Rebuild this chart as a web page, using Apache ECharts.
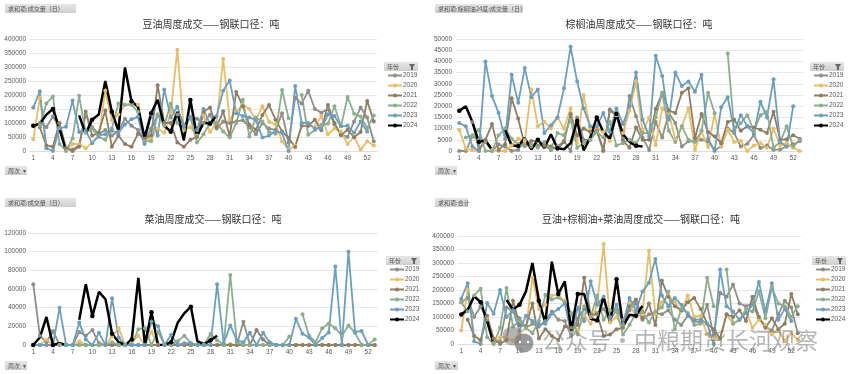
<!DOCTYPE html>
<html>
<head>
<meta charset="utf-8">
<style>
  html, body { margin: 0; padding: 0; background: #fff; }
  #chart { width: 851px; height: 374px; }
</style>
</head>
<body>
<div id="chart"></div>
<script src="https://cdn.jsdelivr.net/npm/echarts@6/dist/echarts.min.js"></script>
<script>
const weeks = ['1','2','3','4','5','6','7','8','9','10','11','12','13','14','15','16','17','18','19','20','21','22','23','24','25','26','27','28','29','30','31','32','33','34','35','36','37','38','39','40','41','42','43','44','45','46','47','48','49','50','51','52','53']
const years = ['2019', '2020', '2021', '2022', '2023', '2024']
const yearColors = ['#8f8f87', '#e9bd66', '#8f7d64', '#8bae8c', '#6a9fc1', '#000000']

// 豆油
const soy2019 = [90000,100000,85000,123000,85000,10000,5000,20000,130000,85000,60000,75000,55000,70000,115000,90000,75000,30000,80000,130000,100000,100000,130000,90000,120000,115000,100000,130000,80000,105000,100000,105000,110000,85000,60000,100000,80000,75000,135000,30000,190000,170000,215000,150000,137000,150000,95000,60000,50000,105000,155000,120000,35000]
const soy2020 = [42000,190000,20000,15000,100000,0,25000,25000,10000,30000,55000,215000,110000,130000,165000,170000,165000,40000,45000,80000,65000,135000,362000,75000,85000,55000,130000,68000,100000,329000,112000,140000,165000,150000,110000,160000,105000,95000,35000,5000,20000,90000,90000,85000,125000,60000,80000,70000,25000,50000,5000,35000,20000]
const soy2021 = [null,85000,20000,15000,100000,10000,0,15000,140000,55000,65000,145000,15000,55000,25000,15000,62000,45000,55000,235000,100000,100000,30000,15000,40000,50000,140000,155000,85000,142000,52000,211000,160000,94000,76000,129000,164000,112000,70000,46000,14000,90000,90000,112000,74000,164000,100000,56000,76000,49000,68000,179000,106000]
const soy2022 = [null,90000,170000,195000,25000,0,45000,197000,65000,80000,50000,40000,80000,170000,165000,165000,140000,35000,35000,130000,90000,170000,100000,80000,120000,30000,60000,100000,100000,70000,48000,100000,183000,52000,120000,105000,68000,62000,218000,117000,null,200000,58000,74000,94000,97000,160000,88000,193000,133000,123000,82000,127000]
const soy2023 = [155000,213000,10000,0,80000,87000,180000,68000,72000,28000,55000,60000,72000,65000,95000,113000,122000,25000,130000,55000,220000,120000,158000,90000,122000,75000,150000,95000,125000,215000,252000,135000,125000,120000,110000,48000,55000,70000,65000,0,232000,100000,100000,80000,80000,130000,125000,88000,90000,65000,105000,70000,null]
const soy2024 = [90000,97000,130000,150000,80000,0,null,127000,62000,112000,130000,250000,140000,73000,298000,178000,157000,47000,135000,183000,90000,69000,140000,38000,182000,52000,101000,98000,127000]

// 棕榈油
const palm2019 = [0,0,6500,5000,4000,0,3000,2000,0,500,5000,2000,2500,2500,500,2000,4500,0,15000,5000,5000,9500,500,18000,16000,5500,24500,15500,6000,500,13000,6000,17000,12500,2000,4300,4300,5000,4300,500,2000,10000,8000,2000,3200,7200,1300,2400,600,700,2000,3000,4300]
const palm2020 = [9500,1000,500,0,5000,500,0,0,2500,5500,4500,27500,11000,13000,10000,15000,10000,19000,3500,25000,10000,10500,8500,4500,16000,8000,18000,31000,8500,15000,2700,19000,17000,5000,11000,19000,600,8800,1800,16500,2000,9500,4000,4500,0,2500,3500,1500,10000,2500,3500,1500,0]
const palm2021 = [null,null,13000,500,5000,12000,500,3000,23500,14500,2500,4500,4500,3000,2000,1000,4000,16500,7000,10000,8500,9000,0,18500,16500,4500,1500,10500,5000,5000,18700,26000,18000,17000,26000,28000,5800,16500,8500,6500,3500,13000,14000,9000,11000,10500,9500,8000,17500,5000,5300,7000,5500]
const palm2022 = [null,6000,7000,9500,0,0,7000,10000,5500,3000,2000,3000,1500,4000,1000,8000,7000,14000,1500,3500,5000,8500,6000,13000,2500,3500,5000,3500,8000,8000,15000,26000,9000,4000,11000,5000,4000,9000,26000,17000,null,43500,9500,12500,16000,9000,16000,17500,1500,4000,11000,2000,5000]
const palm2023 = [12500,11000,2000,0,40000,24500,17000,5500,34000,21500,37000,24000,27500,8000,11500,15000,28000,46500,31000,19000,11000,11000,17000,8500,19000,12000,20000,35000,14000,6500,42500,33500,14000,35000,29000,31000,26500,34000,5500,0,19500,24000,9000,16000,11000,8000,22000,15000,32000,4000,2000,20000,null]
const palm2024 = [18000,20000,13000,4000,4800,500,null,9500,2500,2200,5800,700,5000,1300,7500,1200,800,3500,13500,300,6000,15000,8500,5500,16500,7500,4000,2300,2000]

// 菜油
const rape2019 = [65000,10000,3000,15000,0,0,0,14000,10000,16000,2000,0,0,0,0,0,0,0,0,0,0,0,0,0,0,0,0,0,0,0,0,0,25000,0,0,0,0,0,0,0,0,0,0,0,0,0,0,0,0,0,0,0,0]
const rape2020 = [0,0,6000,0,0,0,0,4000,0,0,0,0,9000,18000,0,3000,10000,0,14000,0,0,0,0,0,0,0,0,0,0,0,1000,0,0,0,0,0,0,0,0,0,0,0,0,0,0,0,0,0,0,0,0,0,0]
const rape2021 = [0,0,0,0,0,0,0,0,0,0,0,0,0,0,0,0,0,0,0,0,0,0,0,0,0,0,0,0,0,0,0,0,0,0,16000,6000,0,0,0,0,0,0,0,0,0,0,0,0,0,0,0,0,0]
const rape2022 = [0,0,0,0,0,0,0,0,0,0,0,0,3000,0,0,0,17000,18000,0,14000,0,0,4000,10000,2000,0,0,12000,5000,0,75000,3000,0,0,0,0,0,0,0,9000,null,33000,10000,3000,18000,23000,18000,10000,21000,13000,0,0,6000]
const rape2023 = [0,0,0,0,40000,0,0,24000,6000,0,13000,0,50000,8000,0,0,0,0,25000,20000,0,11000,0,2000,2000,0,0,0,65000,2000,21000,5000,3000,13000,0,13000,3000,0,0,0,28000,12000,8000,0,7500,13500,84000,0,100000,14000,15000,0,null]
const rape2024 = [0,8000,30000,0,2000,0,null,27000,65000,31000,57000,49000,12000,3000,0,6000,72000,0,35000,0,0,3000,24000,34000,41000,4000,1000,5000,10000]

// 合计
const total2019 = [155000,170000,100000,140000,90000,5000,10000,135000,120000,95000,60000,75000,65000,85000,120000,90000,85000,30000,95000,130000,100000,115000,130000,90000,125000,90000,125000,150000,90000,110000,115000,110000,125000,90000,70000,105000,85000,80000,145000,30000,190000,175000,220000,150000,140000,150000,95000,65000,50000,110000,160000,135000,40000]
const total2020 = [50000,200000,30000,10000,100000,0,25000,25000,12000,40000,60000,245000,130000,145000,180000,182000,160000,40000,50000,105000,75000,145000,370000,80000,100000,65000,150000,100000,110000,345000,110000,155000,180000,155000,120000,180000,100000,105000,35000,20000,20000,110000,75000,90000,125000,60000,90000,70000,35000,55000,10000,40000,15000]
const total2021 = [null,90000,30000,15000,105000,20000,0,15000,160000,70000,65000,150000,20000,55000,30000,15000,65000,60000,70000,245000,110000,110000,30000,35000,55000,60000,140000,165000,95000,150000,70000,235000,175000,140000,125000,155000,170000,130000,75000,55000,20000,110000,100000,125000,85000,175000,100000,60000,95000,55000,75000,185000,110000]
const total2022 = [155000,120000,180000,205000,25000,0,60000,207000,65000,85000,60000,40000,85000,182000,165000,172000,155000,115000,35000,140000,100000,180000,90000,125000,120000,35000,70000,115000,120000,80000,120000,135000,194000,55000,130000,115000,70000,75000,245000,140000,null,276000,75000,90000,130000,120000,195000,95000,210000,150000,140000,100000,140000]
const total2023 = [168000,225000,10000,0,152000,112000,200000,100000,125000,50000,105000,85000,72000,75000,112000,130000,150000,35000,135000,85000,232000,145000,175000,100000,145000,75000,170000,125000,194000,227000,315000,180000,140000,170000,145000,110000,90000,90000,75000,0,276000,140000,120000,90000,115000,145000,230000,120000,225000,90000,130000,85000,null]
const total2024 = [109000,127000,177000,155000,85000,0,null,163000,128000,145000,195000,300000,160000,78000,305000,185000,232000,50000,185000,185000,93000,87000,175000,77000,240000,65000,108000,105000,141000]

const charts = [
  {
    title: '豆油周度成交——钢联口径：吨',
    values: [soy2019, soy2020, soy2021, soy2022, soy2023, soy2024],
    max: 400000, interval: 50000,
    grid: { left: 30, top: 39, width: 347, height: 112 },
    titleX: 211, titleY: 24, legendX: 387, legendY: 72,
    filter: { text: '求和项:成交量（日）', x: 5, y: 4, w: 71 },
    week: { x: 5, y: 166, w: 22 },
    head: { x: 384, y: 62 },
  },
  {
    title: '棕榈油周度成交——钢联口径：吨',
    values: [palm2019, palm2020, palm2021, palm2022, palm2023, palm2024],
    max: 50000, interval: 5000,
    grid: { left: 456, top: 39, width: 347, height: 112 },
    titleX: 639, titleY: 24, legendX: 813, legendY: 72,
    filter: { text: '求和项:棕榈油24度:成交量（日）', x: 435, y: 4, w: 88 },
    week: { x: 435, y: 166, w: 22 },
    head: { x: 810, y: 62 },
  },
  {
    title: '菜油周度成交——钢联口径：吨',
    values: [rape2019, rape2020, rape2021, rape2022, rape2023, rape2024],
    max: 120000, interval: 20000,
    grid: { left: 30, top: 233, width: 348, height: 112 },
    titleX: 213, titleY: 219, legendX: 389, legendY: 266,
    filter: { text: '求和项:成交量（日）', x: 5, y: 198, w: 71 },
    week: { x: 5, y: 361, w: 22 },
    head: { x: 386, y: 256 },
  },
  {
    title: '豆油+棕榈油+菜油周度成交——钢联口径：吨',
    values: [total2019, total2020, total2021, total2022, total2023, total2024],
    max: 400000, interval: 50000,
    grid: { left: 458, top: 236, width: 343, height: 108 },
    titleX: 641, titleY: 219, legendX: 815, legendY: 266,
    filter: { text: '求和项:合计', x: 435, y: 198, w: 33 },
    week: { x: 435, y: 361, w: 23 },
    head: { x: 812, y: 256 },
  },
]

const axisFont = { fontFamily: 'Liberation Sans', fontSize: 6.5, color: '#595959' }
const buttonFill = new echarts.graphic.LinearGradient(0, 0, 0, 1, [
  { offset: 0, color: '#e6e6e6' },
  { offset: 1, color: '#cfcfcf' },
])

const button = (b, text, h = 9) => [
  { type: 'rect', shape: { x: b.x, y: b.y, width: b.w, height: h }, style: { fill: buttonFill } },
  { type: 'text', x: b.x + 3, y: b.y + h / 2, style: { text, fill: '#555', fontSize: 6, fontFamily: 'Noto Sans CJK SC', verticalAlign: 'middle' } },
]

const graphicItems = []
charts.forEach((c) => {
  graphicItems.push(...button(c.filter, c.filter.text))
  graphicItems.push(...button(c.week, '周次  ▾'))
  graphicItems.push(...button({ x: c.head.x, y: c.head.y, w: 34 }, '年份'))
  graphicItems.push({
    type: 'polygon',
    shape: { points: [[c.head.x + 25, c.head.y + 2], [c.head.x + 31, c.head.y + 2], [c.head.x + 29, c.head.y + 5], [c.head.x + 29, c.head.y + 8], [c.head.x + 27, c.head.y + 8], [c.head.x + 27, c.head.y + 5]] },
    style: { fill: '#666' },
  })
})

// 水印
graphicItems.push(
  { type: 'circle', z: 50, shape: { cx: 512, cy: 336, r: 9.5 }, style: { fill: 'rgba(120,120,120,0.55)' } },
  { type: 'circle', z: 51, shape: { cx: 524, cy: 343, r: 9.5 }, style: { fill: 'rgba(120,120,120,0.75)' } },
  { type: 'circle', z: 52, shape: { cx: 520, cy: 342, r: 1.2 }, style: { fill: '#fff' } },
  { type: 'circle', z: 52, shape: { cx: 528, cy: 342, r: 1.2 }, style: { fill: '#fff' } },
  { type: 'text', z: 50, x: 542, y: 340, style: { text: '公众号·中粮期货长河观察', fill: 'rgba(120,120,120,0.55)', fontSize: 23, fontFamily: 'Noto Sans CJK SC', verticalAlign: 'middle' } }
)

const option = {
  animation: false,
  backgroundColor: '#fff',
  title: charts.map((c) => ({
    text: c.title,
    left: c.titleX,
    top: c.titleY,
    padding: 0,
    textAlign: 'center',
    textVerticalAlign: 'middle',
    textStyle: { fontFamily: 'Noto Sans CJK SC', fontSize: 10, fontWeight: 'normal', color: '#333' },
  })),
  grid: charts.map((c) => c.grid),
  xAxis: charts.map((c, i) => ({
    type: 'category',
    gridIndex: i,
    data: weeks,
    axisTick: { show: false },
    axisLine: { lineStyle: { color: '#dcdcdc' } },
    axisLabel: { ...axisFont, interval: 2, margin: 4 },
  })),
  yAxis: charts.map((c, i) => ({
    type: 'value',
    gridIndex: i,
    min: 0,
    max: c.max,
    interval: c.interval,
    axisLine: { show: false },
    axisTick: { show: false },
    axisLabel: { ...axisFont, margin: 4, hideOverlap: false, formatter: (v) => String(v) },
    splitLine: { lineStyle: { color: '#e6e6e6', width: 1 } },
  })),
  legend: charts.map((c) => ({
    data: years,
    orient: 'vertical',
    left: c.legendX,
    top: c.legendY,
    padding: 0,
    itemWidth: 14,
    itemHeight: 5,
    itemGap: 3,
    textStyle: { ...axisFont, padding: [0, 0, 0, -4] },
  })),
  series: charts.flatMap((c, i) =>
    years.map((year, j) => ({
      name: year,
      type: 'line',
      xAxisIndex: i,
      yAxisIndex: i,
      data: c.values[j],
      symbol: 'circle',
      symbolSize: j === 5 ? 4.5 : 4,
      connectNulls: false,
      lineStyle: { color: yearColors[j], width: j === 5 ? 2.5 : 1.8 },
      itemStyle: { color: yearColors[j] },
    }))
  ),
  graphic: graphicItems,
}

const chart = echarts.init(document.getElementById('chart'))
chart.setOption(option)
window.addEventListener('resize', () => chart.resize())
</script>
</body>
</html>
